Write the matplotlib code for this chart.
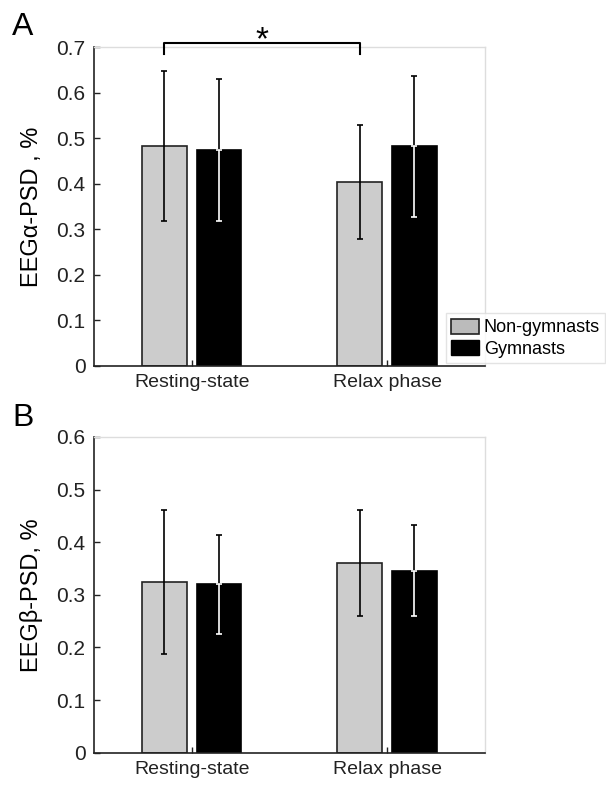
import matplotlib
matplotlib.use("Agg")
import matplotlib.pyplot as plt
from matplotlib.patches import Patch

plt.rcParams["font.family"] = ["Liberation Sans", "DejaVu Sans"]

# data
phases = ["Resting-state", "Relax phase"]
groups = ["Non-gymnasts", "Gymnasts"]
alpha_non = [0.482, 0.403]
alpha_non_err = [0.165, 0.125]
alpha_gym = [0.474, 0.482]
alpha_gym_err = [0.155, 0.155]
beta_non = [0.324, 0.361]
beta_non_err = [0.137, 0.101]
beta_gym = [0.320, 0.346]
beta_gym_err = [0.094, 0.087]

gray = "#cccccc"


def draw_panel(ax, non, non_err, gym, gym_err, ymax, ylabel):
    x = [1, 2]
    off = 0.14
    w = 0.23
    xn = [v - off for v in x]
    xg = [v + off for v in x]
    ax.bar(xn, non, width=w, color=gray, edgecolor="#222222", linewidth=1.2, zorder=2)
    ax.bar(xg, gym, width=w, color="black", edgecolor="black", linewidth=1.2, zorder=2)
    ax.errorbar(xn, non, yerr=non_err, fmt="none", ecolor="black",
                elinewidth=1.2, capsize=2.5, capthick=1.2, zorder=3)
    # gymnasts: upper part black, part inside bar white
    ax.errorbar(xg, gym, yerr=[[0] * 2, gym_err], fmt="none", ecolor="black",
                elinewidth=1.2, capsize=2.5, capthick=1.2, zorder=3)
    ax.errorbar(xg, gym, yerr=[gym_err, [0] * 2], fmt="none", ecolor="white",
                elinewidth=1.2, capsize=2.5, capthick=1.2, zorder=3)
    ax.set_xlim(0.5, 2.5)
    ax.set_ylim(0, ymax)
    n = int(round(ymax * 10))
    ax.set_xticks(x)
    ax.set_xticklabels(phases, fontsize=14)
    ax.set_yticks([i / 10 for i in range(n + 1)])
    ax.set_yticklabels(["0"] + ["%.1f" % (i / 10) for i in range(1, n + 1)], fontsize=15)
    ax.tick_params(direction="in", length=4, width=1, colors="#222222", pad=6)
    ax.set_ylabel(ylabel, fontsize=17, labelpad=10)
    for s in ["top", "right"]:
        ax.spines[s].set_color("#dddddd")
        ax.spines[s].set_linewidth(1)
    for s in ["left", "bottom"]:
        ax.spines[s].set_color("#222222")
        ax.spines[s].set_linewidth(1.2)
    return xn, xg


fig = plt.figure(figsize=(6.06, 7.85), dpi=100)
axA = fig.add_axes([0.155, 0.534, 0.645, 0.406])
axB = fig.add_axes([0.155, 0.041, 0.645, 0.4025])

xn, xg = draw_panel(axA, alpha_non, alpha_non_err, alpha_gym, alpha_gym_err, 0.7, "EEGα-PSD , %")
draw_panel(axB, beta_non, beta_non_err, beta_gym, beta_gym_err, 0.6, "EEGβ-PSD, %")

# significance bracket
axA.plot([xn[0], xn[0], xn[1], xn[1]], [0.685, 0.71, 0.71, 0.685],
         color="black", linewidth=1.5, clip_on=False, zorder=4)
axA.text((xn[0] + xn[1]) / 2, 0.713, "*", ha="center", va="center", fontsize=24)

fig.text(0.02, 0.985, "A", fontsize=23, va="top")
fig.text(0.02, 0.487, "B", fontsize=23, va="top")

handles = [Patch(facecolor="#bbbbbb", edgecolor="#222222", linewidth=1.2),
           Patch(facecolor="black", edgecolor="black")]
fig.legend(handles, groups, loc="upper left", bbox_to_anchor=(0.736, 0.601),
           fontsize=13, frameon=True, fancybox=False, edgecolor="#dddddd",
           handlelength=1.5, handleheight=0.9, handletextpad=0.3,
           borderpad=0.3, labelspacing=0.2, borderaxespad=0)

fig.savefig("out.png", dpi=100)
